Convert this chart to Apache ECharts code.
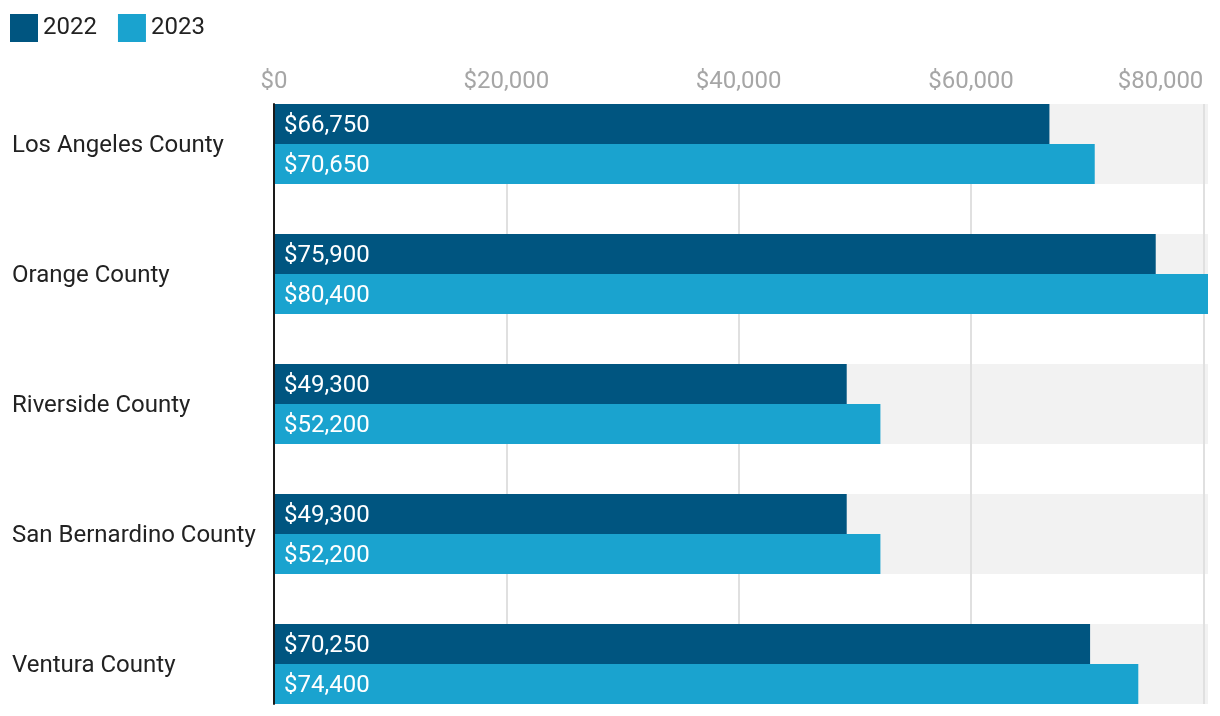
<!DOCTYPE html>
<html><head><meta charset="utf-8">
<script src="https://cdn.jsdelivr.net/npm/echarts@6/dist/echarts.min.js"></script>
<style>html,body{margin:0;padding:0;background:#fff}#c{width:1220px;height:716px}</style>
</head><body><div id="c"></div>
<script>
const categories = ['Los Angeles County','Orange County','Riverside County','San Bernardino County','Ventura County'];
const values2022 = [66750, 75900, 49300, 49300, 70250];
const values2023 = [70650, 80400, 52200, 52200, 74400];
const seriesNames = ['2022','2023'];
const tickValues = [0, 20000, 40000, 60000, 80000];
const tickInterval = 20000;
const axisMax = Math.max(...values2022, ...values2023);

const FONT = 'Roboto';
const fmt = v => '$' + Number(v).toLocaleString('en-US');
const chart = echarts.init(document.getElementById('c'));
chart.setOption({
  animation: false,
  textStyle: { fontFamily: FONT },
  legend: {
    left: 5, top: 9, itemWidth: 28, itemHeight: 28, itemGap: 21, icon: 'rect',
    textStyle: { fontSize: 24, color: '#222', fontFamily: FONT },
    data: seriesNames
  },
  grid: [
    { left: 274, right: 12, top: 79, height: 650, outerBoundsMode: 'none', containLabel: false },
    { left: 274, right: 12, top: 104, height: 600, outerBoundsMode: 'none', containLabel: false }
  ],
  xAxis: [
    { type: 'value', gridIndex: 0, position: 'top', min: 0, max: axisMax,
      axisLine: { show: false }, axisTick: { show: false }, splitLine: { show: false },
      axisLabel: { color: '#a6a6a6', fontSize: 24, margin: -15, formatter: fmt,
                   customValues: tickValues, alignMaxLabel: 'right', hideOverlap: false } },
    { type: 'value', gridIndex: 1, min: 0, max: axisMax, interval: tickInterval, z: 2,
      axisLine: { show: false }, axisTick: { show: false }, axisLabel: { show: false },
      splitLine: { show: true, showMaxLine: false, lineStyle: { color: '#e0e0e0', width: 2 } } }
  ],
  yAxis: [
    { type: 'category', gridIndex: 0, inverse: true, data: categories,
      axisLine: { show: false }, axisTick: { show: false },
      axisLabel: { color: '#222', fontSize: 24, align: 'left', margin: 262,
                   formatter: v => '{c|' + v + '}',
                   rich: { c: { fontSize: 24, color: '#222', fontFamily: FONT, padding: [4, 0, 0, 0] } } } },
    { type: 'category', gridIndex: 0, inverse: true, data: categories, show: false },
    { type: 'category', gridIndex: 1, data: [''], z: 5,
      axisLine: { show: true, lineStyle: { color: '#1a1a1a', width: 2 } },
      axisTick: { show: false }, axisLabel: { show: false } }
  ],
  series: [
    { type: 'bar', name: 'bg', yAxisIndex: 1, xAxisIndex: 0, barWidth: 80, z: 1, silent: true,
      data: categories.map(() => axisMax), itemStyle: { color: '#f2f2f2' }, legendHoverLink: false },
    { type: 'bar', name: seriesNames[0], yAxisIndex: 0, xAxisIndex: 0, barWidth: 40, barGap: '0%', z: 3,
      data: values2022, itemStyle: { color: '#005580' },
      label: { show: true, position: 'insideLeft', distance: 10, offset: [0, 2], color: '#fff', fontSize: 24, formatter: p => fmt(p.value) } },
    { type: 'bar', name: seriesNames[1], yAxisIndex: 0, xAxisIndex: 0, barWidth: 40, barGap: '0%', z: 3,
      data: values2023, itemStyle: { color: '#1aa3cf' },
      label: { show: true, position: 'insideLeft', distance: 10, offset: [0, 2], color: '#fff', fontSize: 24, formatter: p => fmt(p.value) } }
  ]
});
</script></body></html>
